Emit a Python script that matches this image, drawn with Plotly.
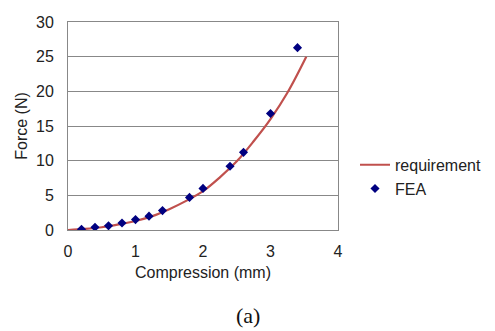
import plotly.graph_objects as go

# requirement curve
req_x = [0, 0.25, 0.5, 0.75, 1.0, 1.25, 1.5, 1.75, 2.0, 2.25, 2.5, 2.75, 3.0, 3.25, 3.53]
req_y = [0, 0.15, 0.4, 0.8, 1.3, 2.0, 3.0, 4.2, 5.6, 7.6, 9.9, 12.8, 16.0, 19.8, 25.0]

# FEA points
fea_x = [0.2, 0.4, 0.6, 0.8, 1.0, 1.2, 1.4, 1.8, 2.0, 2.4, 2.6, 3.0, 3.4]
fea_y = [0.1, 0.4, 0.6, 1.0, 1.5, 2.0, 2.8, 4.7, 6.0, 9.2, 11.2, 16.8, 26.3]

x_ticks = [0, 1, 2, 3, 4]
y_ticks = [0, 5, 10, 15, 20, 25, 30]

font = "Liberation Sans, Arial, sans-serif"

fig = go.Figure()
fig.add_trace(go.Scatter(x=req_x, y=req_y, mode="lines", name="requirement",
                         line=dict(color="#C0504D", width=2.2, shape="spline")))
fig.add_trace(go.Scatter(x=fea_x, y=fea_y, mode="markers", name="FEA",
                         marker=dict(symbol="diamond", color="#000080", size=7)))

fig.update_layout(
    width=487, height=323,
    margin=dict(l=60, r=157, t=6, b=101),
    paper_bgcolor="white", plot_bgcolor="white",
    font=dict(family=font, size=16, color="#222222"),
    showlegend=True,
    legend=dict(x=1.063, y=0.395, xanchor="left", yanchor="top",
                font=dict(size=16, color="#222222"), bgcolor="rgba(0,0,0,0)"),
    xaxis=dict(range=[0, 4], tickvals=x_ticks, showgrid=False, zeroline=False,
               showline=True, linecolor="#888888", linewidth=1, mirror=True,
               ticks="", tickfont=dict(size=16), ticklabelstandoff=7,
               ticklabeloverflow="allow",
               title=dict(text="Compression (mm)", font=dict(size=16), standoff=7)),
    yaxis=dict(range=[0, 30], tickvals=y_ticks, showgrid=True, gridcolor="#888888",
               gridwidth=1, zeroline=False, showline=True, linecolor="#888888",
               linewidth=1, mirror=True, ticks="", tickfont=dict(size=16),
               ticklabelstandoff=10, ticklabeloverflow="allow",
               title=dict(text="Force (N)", font=dict(size=16), standoff=4)),
    annotations=[dict(text="(a)", x=0.667, y=-0.41, xref="paper", yref="paper",
                      xanchor="center", yanchor="middle", showarrow=False,
                      font=dict(family="Liberation Serif, Times New Roman, serif",
                                size=22, color="#111111"))],
)

fig.write_html("out.html")
